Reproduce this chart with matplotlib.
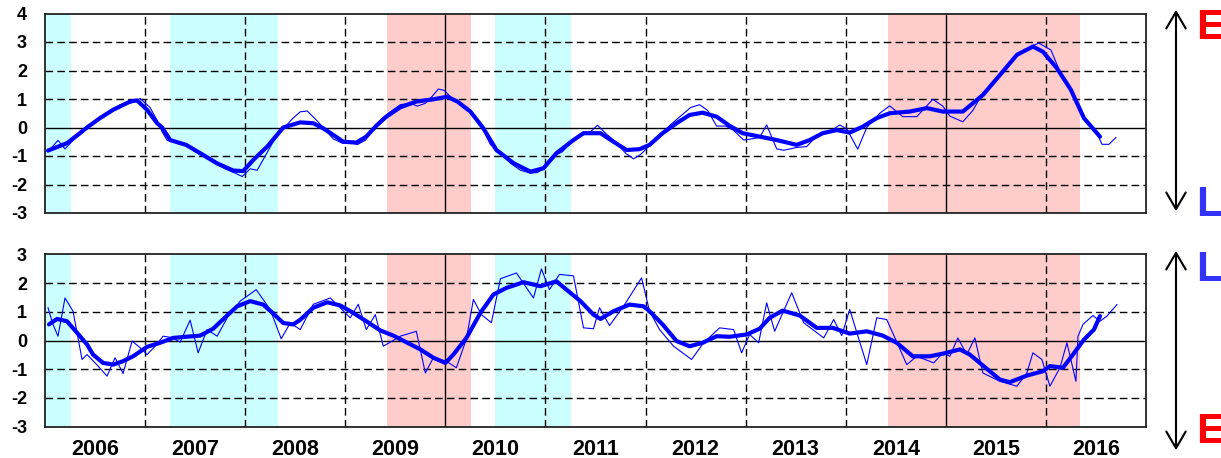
import matplotlib
matplotlib.use("Agg")
import matplotlib.pyplot as plt

# ---------------- data ----------------
years = list(range(2006, 2017))
year_labels = [str(y) for y in years]

cyan_bands = [(2006.0, 2006.26), (2007.25, 2008.33), (2010.50, 2011.26)]
red_bands = [(2009.42, 2010.26), (2014.42, 2016.34)]

top_thick_t = [2006.03, 2006.22, 2006.42, 2006.55, 2006.68, 2006.85, 2006.92, 2007.02, 2007.12, 2007.17,
               2007.25, 2007.41, 2007.55, 2007.72, 2007.88, 2007.98, 2008.08, 2008.22, 2008.38, 2008.55,
               2008.68, 2008.78, 2008.88, 2008.98, 2009.11, 2009.21, 2009.31, 2009.41, 2009.55, 2009.71,
               2009.88, 2010.02, 2010.12, 2010.25, 2010.38, 2010.51, 2010.68, 2010.85, 2010.98, 2011.11,
               2011.28, 2011.38, 2011.55, 2011.68, 2011.81, 2011.94, 2012.04, 2012.17, 2012.31, 2012.44,
               2012.57, 2012.71, 2012.84, 2012.97, 2013.14, 2013.31, 2013.51, 2013.64, 2013.77, 2013.91,
               2014.04, 2014.17, 2014.31, 2014.44, 2014.64, 2014.81, 2014.97, 2015.17, 2015.37, 2015.54,
               2015.71, 2015.87, 2015.97, 2016.11, 2016.25, 2016.38, 2016.54]
top_thick_v = [-0.81, -0.55, 0.0, 0.33, 0.62, 0.91, 0.95, 0.62, 0.15, 0.0,
               -0.44, -0.61, -0.9, -1.26, -1.51, -1.53, -1.14, -0.67, 0.0, 0.18,
               0.15, -0.03, -0.26, -0.5, -0.53, -0.32, 0.06, 0.38, 0.71, 0.91,
               0.99, 1.08, 0.91, 0.56, -0.03, -0.79, -1.25, -1.55, -1.43, -0.9,
               -0.44, -0.2, -0.2, -0.5, -0.79, -0.76, -0.61, -0.2, 0.15, 0.44,
               0.52, 0.38, 0.06, -0.2, -0.32, -0.44, -0.61, -0.44, -0.2, -0.09,
               -0.18, 0.03, 0.33, 0.5, 0.56, 0.68, 0.56, 0.56, 1.14, 1.84,
               2.55, 2.84, 2.66, 2.08, 1.32, 0.33, -0.32]

top_thin_t = [2006.03, 2006.13, 2006.20, 2006.28, 2006.37, 2006.45, 2006.55, 2006.65, 2006.75, 2006.85,
              2006.95, 2007.05, 2007.12, 2007.17, 2007.22, 2007.30, 2007.40, 2007.50, 2007.60, 2007.70,
              2007.80, 2007.90, 2007.97, 2008.05, 2008.12, 2008.20, 2008.28, 2008.38, 2008.47, 2008.55,
              2008.62, 2008.70, 2008.78, 2008.88, 2008.97, 2009.05, 2009.12, 2009.20, 2009.28, 2009.36,
              2009.45, 2009.55, 2009.65, 2009.72, 2009.80, 2009.87, 2009.93, 2009.99, 2010.06, 2010.15,
              2010.22, 2010.30, 2010.38, 2010.45, 2010.55, 2010.65, 2010.75, 2010.85, 2010.92, 2011.00,
              2011.08, 2011.17, 2011.25, 2011.35, 2011.45, 2011.52, 2011.60, 2011.70, 2011.80, 2011.88,
              2011.95, 2012.05, 2012.15, 2012.25, 2012.35, 2012.45, 2012.54, 2012.62, 2012.71, 2012.80,
              2012.88, 2012.98, 2013.06, 2013.14, 2013.21, 2013.31, 2013.38, 2013.51, 2013.61, 2013.71,
              2013.84, 2013.94, 2014.01, 2014.12, 2014.21, 2014.34, 2014.44, 2014.57, 2014.71, 2014.87,
              2014.97, 2015.04, 2015.17, 2015.27, 2015.37, 2015.54, 2015.71, 2015.85, 2015.93, 2016.05,
              2016.14, 2016.25, 2016.38, 2016.51, 2016.56, 2016.63, 2016.70]
top_thin_v = [-0.85, -0.45, -0.75, -0.45, -0.2, 0.05, 0.3, 0.55, 0.8, 0.85,
              1.02, 0.7, 0.25, -0.15, -0.45, -0.5, -0.62, -0.85, -1.05, -1.25,
              -1.45, -1.6, -1.72, -1.45, -1.5, -1.0, -0.5, -0.05, 0.3, 0.55,
              0.58, 0.3, 0.0, -0.4, -0.55, -0.5, -0.6, -0.45, -0.05, 0.3,
              0.55, 0.8, 0.85, 0.75, 0.85, 1.1, 1.35, 1.3, 1.05, 0.85,
              0.65, 0.4, -0.1, -0.6, -0.9, -1.25, -1.5, -1.6, -1.58, -1.4,
              -1.0, -0.85, -0.55, -0.3, -0.15, 0.08, -0.2, -0.5, -0.9, -1.1,
              -0.95, -0.6, -0.25, 0.1, 0.4, 0.7, 0.8, 0.6, 0.05, 0.05,
              -0.1, -0.44, -0.4, -0.35, 0.09, -0.75, -0.8, -0.7, -0.67, -0.3,
              -0.15, 0.09, -0.05, -0.76, 0.0, 0.5, 0.76, 0.38, 0.38, 0.99,
              0.75, 0.4, 0.2, 0.6, 1.2, 1.84, 2.5, 2.85, 2.96, 2.72,
              1.96, 1.3, 0.33, -0.2, -0.59, -0.59, -0.35]

bot_thick_t = [2006.04, 2006.12, 2006.22, 2006.32, 2006.42, 2006.48, 2006.58, 2006.68, 2006.78, 2006.88,
               2007.02, 2007.15, 2007.28, 2007.41, 2007.55, 2007.68, 2007.82, 2007.92, 2008.05, 2008.18,
               2008.28, 2008.38, 2008.48, 2008.55, 2008.68, 2008.82, 2008.95, 2009.08, 2009.21, 2009.35,
               2009.48, 2009.61, 2009.75, 2009.88, 2010.00, 2010.08, 2010.21, 2010.35, 2010.48, 2010.61,
               2010.78, 2010.95, 2011.11, 2011.21, 2011.35, 2011.48, 2011.55, 2011.68, 2011.84, 2011.98,
               2012.04, 2012.17, 2012.31, 2012.44, 2012.57, 2012.71, 2012.84, 2013.01, 2013.14, 2013.24,
               2013.37, 2013.54, 2013.71, 2013.87, 2014.04, 2014.21, 2014.37, 2014.51, 2014.67, 2014.84,
               2014.98, 2015.14, 2015.24, 2015.37, 2015.54, 2015.64, 2015.81, 2015.97, 2016.04, 2016.17,
               2016.27, 2016.38, 2016.48, 2016.54]
bot_thick_v = [0.56, 0.75, 0.67, 0.27, -0.14, -0.49, -0.78, -0.84, -0.72, -0.55,
               -0.22, -0.08, 0.09, 0.13, 0.17, 0.41, 0.87, 1.19, 1.37, 1.25,
               0.94, 0.61, 0.56, 0.72, 1.14, 1.33, 1.22, 0.96, 0.67, 0.35,
               0.17, -0.06, -0.31, -0.6, -0.78, -0.49, 0.09, 0.96, 1.6, 1.83,
               2.03, 1.89, 2.06, 1.77, 1.37, 0.9, 0.75, 1.02, 1.25, 1.19,
               1.02, 0.56, -0.02, -0.2, -0.08, 0.15, 0.13, 0.21, 0.41, 0.79,
               1.04, 0.87, 0.44, 0.44, 0.24, 0.32, 0.17, -0.08, -0.55, -0.55,
               -0.45, -0.31, -0.49, -0.87, -1.36, -1.45, -1.22, -1.07, -0.89, -0.95,
               -0.49, 0.03, 0.38, 0.85]

bot_thin_t = [2006.03, 2006.08, 2006.13, 2006.20, 2006.28, 2006.37, 2006.42, 2006.52, 2006.62, 2006.70,
              2006.78, 2006.87, 2006.95, 2007.02, 2007.10, 2007.18, 2007.27, 2007.35, 2007.45, 2007.53,
              2007.62, 2007.72, 2007.83, 2007.95, 2008.11, 2008.25, 2008.36, 2008.45, 2008.55, 2008.68,
              2008.85, 2009.05, 2009.13, 2009.21, 2009.30, 2009.38, 2009.55, 2009.71, 2009.80, 2009.88,
              2010.01, 2010.11, 2010.21, 2010.28, 2010.36, 2010.46, 2010.55, 2010.71, 2010.88, 2010.96,
              2011.04, 2011.14, 2011.28, 2011.38, 2011.48, 2011.54, 2011.64, 2011.78, 2011.96, 2012.04,
              2012.14, 2012.28, 2012.46, 2012.58, 2012.74, 2012.88, 2012.96, 2013.04, 2013.13, 2013.21,
              2013.29, 2013.46, 2013.58, 2013.78, 2013.88, 2013.96, 2014.04, 2014.21, 2014.31, 2014.41,
              2014.61, 2014.71, 2014.88, 2014.97, 2015.04, 2015.12, 2015.21, 2015.29, 2015.37, 2015.54,
              2015.71, 2015.81, 2015.87, 2015.96, 2016.04, 2016.14, 2016.21, 2016.30, 2016.32, 2016.37,
              2016.47, 2016.54, 2016.61, 2016.71]
bot_thin_v = [1.14, 0.56, 0.15, 1.48, 1.02, -0.66, -0.49, -0.85, -1.24, -0.6,
              -1.15, -0.02, -0.25, -0.49, -0.2, 0.15, 0.1, -0.06, 0.71, -0.43,
              0.38, 0.15, 0.85, 1.37, 1.77, 1.08, 0.06, 0.61, 0.38, 1.26,
              1.48, 0.79, 1.26, 0.38, 0.9, -0.2, 0.15, 0.32, -1.13, -0.6,
              -0.72, -0.95, 0.05, 1.43, 0.9, 0.62, 2.15, 2.35, 1.48, 2.49,
              1.77, 2.3, 2.25, 0.44, 0.41, 1.14, 0.52, 1.19, 2.18, 1.02,
              0.38, -0.2, -0.66, -0.08, 0.44, 0.38, -0.43, 0.21, -0.08, 1.31,
              0.32, 1.66, 0.62, 0.09, 0.73, 0.17, 1.08, -0.84, 0.79, 0.73,
              -0.84, -0.55, -0.78, -0.43, -0.55, 0.09, -0.49, 0.09, -1.13, -1.42,
              -1.59, -1.13, -0.43, -0.66, -1.59, -0.95, -0.08, -1.42, 0.14, 0.56,
              0.87, 0.67, 0.85, 1.25]

# ---------------- style ----------------
plt.rcParams['font.family'] = ['Liberation Sans', 'DejaVu Sans']
LINE = '#0000FF'
CYAN = '#CCFFFF'
PINK = '#FFCCCC'

W, H = 1221, 458
fig = plt.figure(figsize=(W / 100, H / 100), dpi=100)

def px_axes(left, top, right, bottom):
    return fig.add_axes([left / W, 1 - bottom / H, (right - left) / W, (bottom - top) / H])

ax1 = px_axes(45, 13.5, 1146, 213)
ax2 = px_axes(45, 254.3, 1146, 426.7)

def style(ax, ylo, yhi, thin_t, thin_v, thick_t, thick_v):
    ax.set_xlim(2006.0, 2017.0)
    ax.set_ylim(ylo, yhi)
    for a, b in cyan_bands:
        ax.axvspan(a, b, color=CYAN, lw=0, zorder=0)
    for a, b in red_bands:
        ax.axvspan(a, b, color=PINK, lw=0, zorder=0)
    for y in range(ylo + 1, yhi):
        if y == 0:
            ax.axhline(0, color='black', lw=1.0, zorder=1)
        else:
            ax.axhline(y, color='black', lw=1.0, dashes=(5.5, 3), zorder=1)
    for yr in years[1:]:
        if yr in (2010, 2015):
            ax.axvline(yr, color='black', lw=1.0, zorder=1)
        else:
            ax.axvline(yr, color='black', lw=1.0, dashes=(5.5, 3), zorder=1)
    ax.plot(thin_t, thin_v, color=LINE, lw=0.8, zorder=3)
    ax.plot(thick_t, thick_v, color=LINE, lw=3.0, zorder=4,
            solid_capstyle='round', solid_joinstyle='round')
    ax.set_yticks(range(ylo, yhi + 1))
    ax.set_yticklabels([str(v) for v in range(ylo, yhi + 1)], fontsize=13, fontweight='bold')
    ax.tick_params(axis='y', length=0, pad=13)
    for s in ax.spines.values():
        s.set_linewidth(1.3)
        s.set_color('#222222')

style(ax1, -3, 4, top_thin_t, top_thin_v, top_thick_t, top_thick_v)
style(ax2, -3, 3, bot_thin_t, bot_thin_v, bot_thick_t, bot_thick_v)

ax1.set_xticks([])
ax2.set_xticks([y + 0.5 for y in years])
ax2.set_xticklabels(year_labels, fontsize=15.5, fontweight='bold')
ax2.tick_params(axis='x', length=0, pad=9)

# side arrows and letters
def side(top_px, bot_px, top_letter, top_col, bot_letter, bot_col, ltop, lbot):
    fig.add_artist(matplotlib.patches.FancyArrowPatch(
        (1176 / W, 1 - top_px / H), (1176 / W, 1 - bot_px / H),
        transform=fig.transFigure, arrowstyle='<->,head_length=1.2,head_width=0.7',
        mutation_scale=10, lw=1.5, color='black'))
    fig.text(1196 / W, 1 - ltop / H, top_letter, color=top_col, fontsize=31,
             fontweight='bold', ha='left', va='top')
    fig.text(1196 / W, 1 - lbot / H, bot_letter, color=bot_col, fontsize=31,
             fontweight='bold', ha='left', va='top')

RED = '#FF0000'
BLUE = '#3333FF'
side(7, 214, 'E', RED, 'L', BLUE, 8, 185)
side(248, 453, 'L', BLUE, 'E', RED, 250, 412)

fig.savefig('out.png', dpi=100)
